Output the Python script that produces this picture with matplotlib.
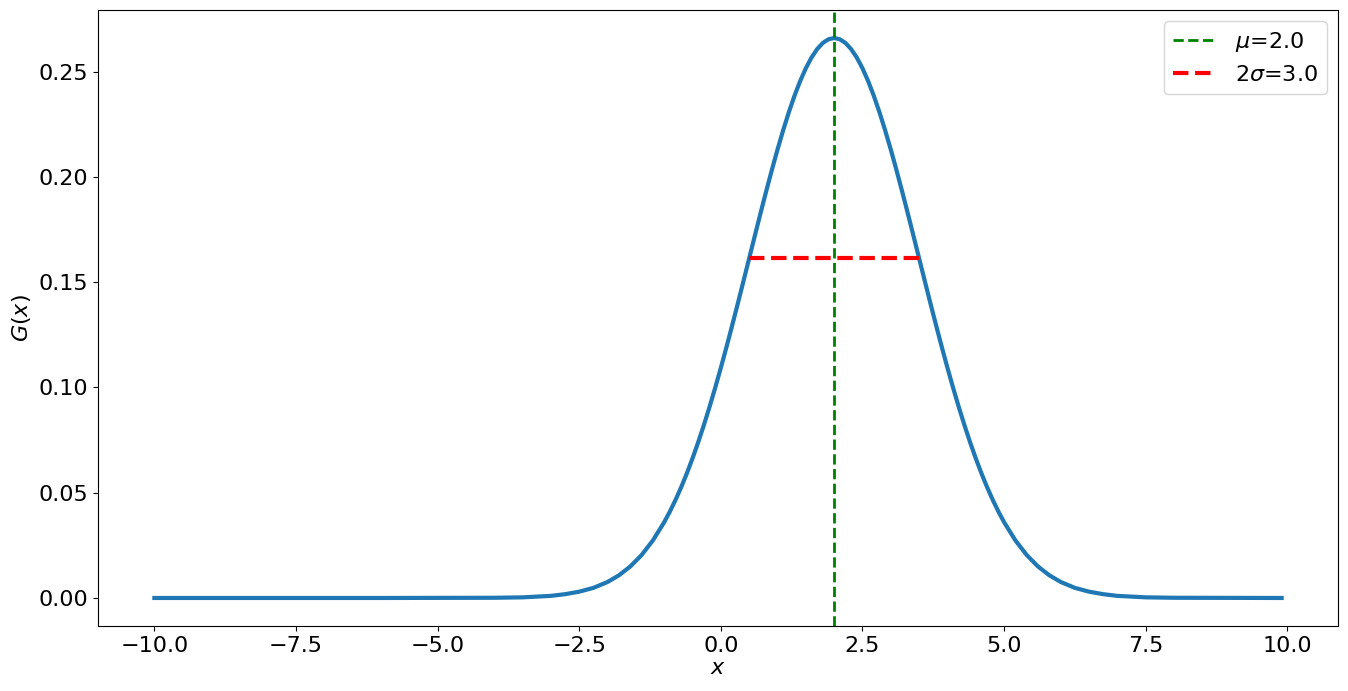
import matplotlib
matplotlib.use("Agg")
import matplotlib.pyplot as plt

# curve values (denser around the peak)
x_vals = [-10.0, -8.0, -6.0, -4.0, -3.5, -3.0, -2.75, -2.5, -2.25, -2.0, -1.8, -1.6, -1.4, -1.2,
          -1.0, -0.9, -0.8, -0.7, -0.6, -0.5, -0.4, -0.3, -0.2, -0.1,
          0.0, 0.1, 0.2, 0.3, 0.4, 0.5, 0.6, 0.7, 0.8, 0.9,
          1.0, 1.1, 1.2, 1.3, 1.4, 1.5, 1.6, 1.7, 1.8, 1.9,
          2.0, 2.1, 2.2, 2.3, 2.4, 2.5, 2.6, 2.7, 2.8, 2.9,
          3.0, 3.1, 3.2, 3.3, 3.4, 3.5, 3.6, 3.7, 3.8, 3.9,
          4.0, 4.1, 4.2, 4.3, 4.4, 4.5, 4.6, 4.7, 4.8, 4.9,
          5.0, 5.2, 5.4, 5.6, 5.8, 6.0, 6.25, 6.5, 6.75, 7.0, 7.5, 8.0, 9.9]
g_vals = [0.0, 0.0, 0.0, 0.0001, 0.0003, 0.0010, 0.0018, 0.0030, 0.0048, 0.0076, 0.01075, 0.01493, 0.02037, 0.02733,
          0.03599, 0.04104, 0.04658, 0.05263, 0.05921, 0.06632, 0.07395, 0.08209, 0.09072, 0.09982,
          0.10934, 0.11924, 0.12946, 0.13993, 0.15057, 0.16131, 0.17205, 0.18269, 0.19313, 0.20326,
          0.21297, 0.22215, 0.23070, 0.23852, 0.24551, 0.25159, 0.25667, 0.26069, 0.26361, 0.26537,
          0.26596, 0.26537, 0.26361, 0.26069, 0.25667, 0.25159, 0.24551, 0.23852, 0.23070, 0.22215,
          0.21297, 0.20326, 0.19313, 0.18269, 0.17205, 0.16131, 0.15057, 0.13993, 0.12946, 0.11924,
          0.10934, 0.09982, 0.09072, 0.08209, 0.07395, 0.06632, 0.05921, 0.05263, 0.04658, 0.04104,
          0.03599, 0.02733, 0.02037, 0.01493, 0.01075, 0.0076, 0.0048, 0.0030, 0.0018, 0.0010, 0.0003, 0.0001, 0.0]

mu = 2.0
width_x = [0.5, 3.5]
width_y = [0.16131, 0.16131]
mu_label = r'$\mu$=2.0'
width_label = r'2$\sigma$=3.0'

plt.rcParams['font.size'] = 16
fig = plt.figure(figsize=(13.48, 6.91), dpi=100)
ax = fig.add_axes([0.0727, 0.0941, 0.9199, 0.8914])

ax.plot(x_vals, g_vals, color='#1f77b4', linewidth=3)
ax.axvline(mu, color='green', linestyle='--', linewidth=2, label=mu_label)
ax.plot(width_x, width_y, color='red', linestyle='--', linewidth=3, label=width_label)

ax.set_xlabel(r'$x$', labelpad=2)
ax.set_ylabel(r'$G(x)$')
ax.set_xticks([-10.0, -7.5, -5.0, -2.5, 0.0, 2.5, 5.0, 7.5, 10.0])
ax.legend(loc='upper right')

fig.savefig('out.png', dpi=100)
